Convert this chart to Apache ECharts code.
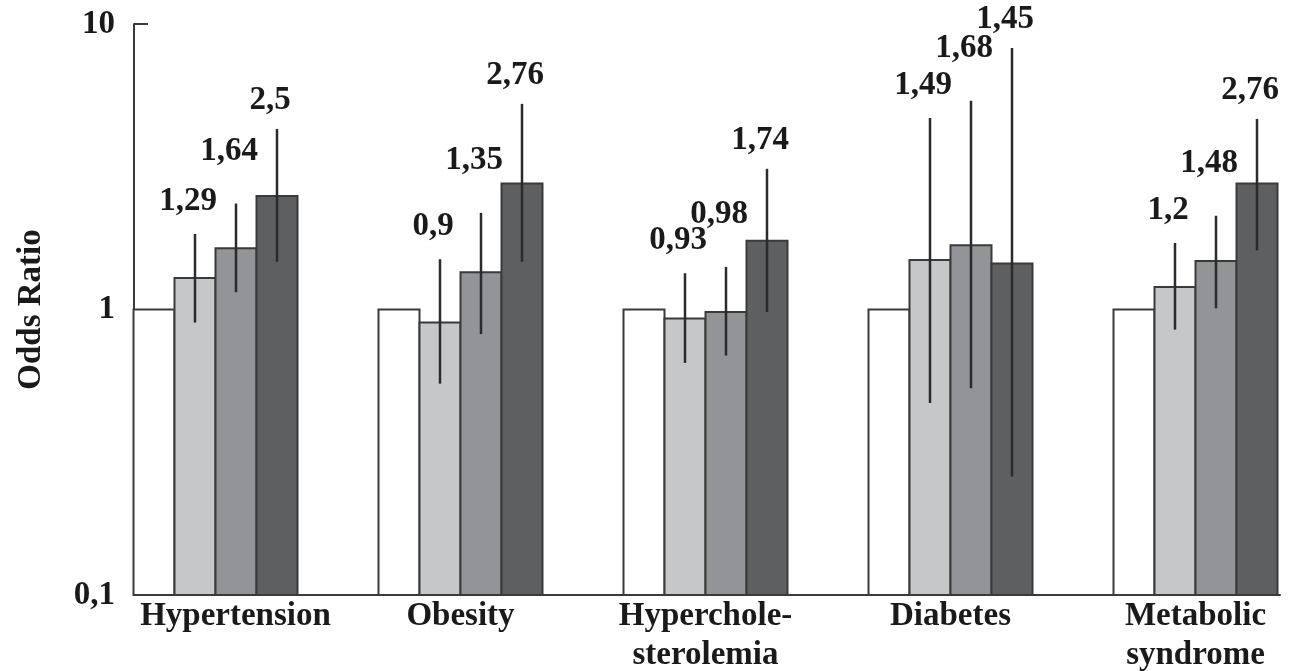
<!DOCTYPE html>
<html>
<head>
<meta charset="utf-8">
<script src="https://cdn.jsdelivr.net/npm/echarts@6/dist/echarts.min.js"></script>
<style>
  html, body { margin: 0; padding: 0; background: #fff; }
  #chart { width: 1291px; height: 671px; }
</style>
</head>
<body>
<div id="chart"></div>
<script>
// odds ratios (reference group = 1) with 95% CI
var categories = ['Hypertension', 'Obesity', 'Hyperchole-\nsterolemia', 'Diabetes', 'Metabolic\nsyndrome'];
var refValues = [1, 1, 1, 1, 1];
var lightValues = [1.29, 0.9, 0.93, 1.49, 1.2];
var lightLow = [0.90, 0.55, 0.65, 0.47, 0.85];
var lightHigh = [1.84, 1.50, 1.34, 4.69, 1.71];
var midValues = [1.64, 1.35, 0.98, 1.68, 1.48];
var midLow = [1.15, 0.82, 0.69, 0.53, 1.01];
var midHigh = [2.35, 2.18, 1.41, 5.38, 2.13];
var darkValues = [2.5, 2.76, 1.74, 1.45, 2.76];
var darkLow = [1.47, 1.47, 0.98, 0.26, 1.61];
var darkHigh = [4.29, 5.25, 3.11, 8.24, 4.65];
var yTicks = [0.1, 1, 10];

var font = '"Liberation Serif", "Times New Roman", serif';
var ink = '#1a1a1a';
var edge = '#3a3a3a';
var barW = 41;
// label distance above the CI whisker, per bar position (as set in the original)
var labelGap = [0, 16, 36, 12];

function comma(v) {
    return String(Math.round(v * 100) / 100).replace('.', ',');
}

// bars drawn from the bottom of the log axis
function barSeries(name, idx, data, color) {
    return {
        name: name,
        type: 'custom',
        xAxisIndex: 0,
        yAxisIndex: 0,
        z: 2,
        data: data.map(function (v, i) { return [i, v]; }),
        encode: { x: 0, y: 1 },
        renderItem: function (params, api) {
            var top = api.coord([api.value(0), api.value(1)]);
            var base = api.coord([api.value(0), yTicks[0]]);
            var x = top[0] + (idx - 2) * barW;
            return {
                type: 'rect',
                shape: { x: x, y: top[1], width: barW, height: base[1] - top[1] },
                style: { fill: color, stroke: edge, lineWidth: 2 }
            };
        }
    };
}

function errorSeries(name, idx, vals, low, high) {
    return {
        name: name,
        type: 'custom',
        xAxisIndex: 0,
        yAxisIndex: 0,
        z: 5,
        clip: false,
        data: vals.map(function (v, i) { return [i, low[i], high[i], v]; }),
        encode: { x: 0, y: [1, 2] },
        renderItem: function (params, api) {
            var lo = api.coord([api.value(0), api.value(1)]);
            var hi = api.coord([api.value(0), api.value(2)]);
            var dx = (idx - 1.5) * barW;
            return {
                type: 'group',
                children: [
                    {
                        type: 'line',
                        shape: { x1: lo[0] + dx, y1: lo[1], x2: hi[0] + dx, y2: hi[1] },
                        style: { stroke: '#2b2b2b', lineWidth: 2.5 }
                    },
                    {
                        type: 'text',
                        x: hi[0] + dx - 7,
                        y: hi[1] - labelGap[idx],
                        style: {
                            text: comma(api.value(3)),
                            fill: ink,
                            font: 'bold 33px ' + font,
                            align: 'center',
                            verticalAlign: 'bottom'
                        }
                    }
                ]
            };
        }
    };
}

var chart = echarts.init(document.getElementById('chart'));

var option = {
    animation: false,
    backgroundColor: '#fff',
    grid: [
        { left: 93, width: 1225, top: 24, bottom: 76, outerBoundsMode: 'none', containLabel: false },
        { left: 134, width: 1146, top: 24, bottom: 76, outerBoundsMode: 'none', containLabel: false }
    ],
    xAxis: [
        {
            type: 'category',
            gridIndex: 0,
            data: categories.map(function (c, i) {
                return i === 0 ? { value: c, textStyle: { padding: [0, 0, 0, 40] } } : c;
            }),
            axisLine: { show: false },
            axisTick: { show: false },
            axisLabel: {
                interval: 0,
                margin: 2,
                color: ink,
                fontFamily: font,
                fontWeight: 'bold',
                fontSize: 33,
                lineHeight: 39
            }
        },
        {
            type: 'value',
            gridIndex: 1,
            min: 0,
            max: 1,
            axisLine: { show: true, lineStyle: { color: edge, width: 2 } },
            axisTick: { show: false },
            axisLabel: { show: false },
            splitLine: { show: false }
        }
    ],
    yAxis: [
        {
            type: 'log',
            gridIndex: 0,
            logBase: 10,
            min: yTicks[0],
            max: yTicks[yTicks.length - 1],
            show: false
        },
        {
            type: 'log',
            gridIndex: 1,
            logBase: 10,
            min: yTicks[0],
            max: yTicks[yTicks.length - 1],
            name: 'Odds Ratio',
            nameLocation: 'middle',
            nameRotate: 90,
            nameGap: 86,
            nameTextStyle: { color: ink, fontFamily: font, fontWeight: 'bold', fontSize: 33 },
            axisLine: { show: true, lineStyle: { color: edge, width: 2 } },
            axisTick: { show: true, inside: true, length: 14, lineStyle: { color: edge, width: 2 } },
            splitLine: { show: false },
            axisLabel: {
                margin: 19,
                color: ink,
                fontFamily: font,
                fontWeight: 'bold',
                fontSize: 33,
                formatter: function (v) { return comma(v); }
            }
        }
    ],
    series: [
        barSeries('Reference', 0, refValues, '#ffffff'),
        barSeries('Group 2', 1, lightValues, '#c6c7c9'),
        barSeries('Group 3', 2, midValues, '#939498'),
        barSeries('Group 4', 3, darkValues, '#5e5f61'),
        errorSeries('CI 2', 1, lightValues, lightLow, lightHigh),
        errorSeries('CI 3', 2, midValues, midLow, midHigh),
        errorSeries('CI 4', 3, darkValues, darkLow, darkHigh)
    ]
};

chart.setOption(option);
</script>
</body>
</html>
